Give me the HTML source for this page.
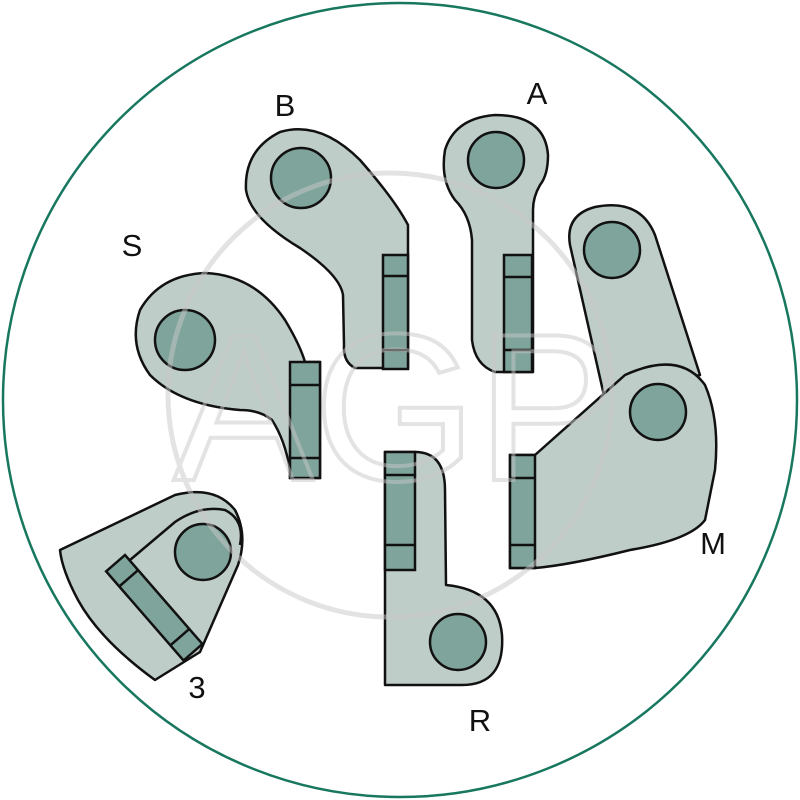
<!DOCTYPE html>
<html><head><style>html,body{margin:0;padding:0;background:#fff}svg{display:block}</style></head>
<body>
<svg width="800" height="800" viewBox="0 0 800 800" xmlns="http://www.w3.org/2000/svg">
<circle cx="400" cy="400" r="397" fill="#fff" stroke="#17775f" stroke-width="2.5"/>
<g fill="#bfcdc9" stroke="#111" stroke-width="2.5" stroke-linejoin="round">
<path d="M355,368 Q343,362 344,345 L343,295 Q340,275 300,248 Q250,218 246,190 Q244,150 280,132 Q320,120 360,160 Q395,200 408,225 L408,368 Z"/>
<path d="M495,372 Q475,365 472,340 L472,240 Q470,215 455,200 Q440,180 445,150 Q455,118 495,115 Q545,115 548,155 Q548,175 540,185 Q533,197 533,210 L533,372 Z"/>
<path d="M290,478 L290,470 Q285,440 272,420 Q260,410 240,410 Q180,405 150,375 Q128,345 140,310 Q160,275 205,273 Q255,275 285,320 Q300,345 305,362 L320,362 L320,478 Z"/>
<path d="M570,245 Q565,215 595,207 Q640,198 655,235 L700,375 L605,400 Z"/>
<path d="M510,455 L535,455 L625,375 Q680,350 705,385 Q720,420 715,470 L705,520 Q690,540 630,550 Q570,565 535,568 L510,568 Z"/>
<path d="M385,452 L415,452 Q445,452 445,490 L446,585 Q498,590 502,635 Q505,685 462,685 L385,685 Z"/>
<path d="M60,550 L175,495 Q215,485 235,510 Q248,535 238,565 L200,652 L155,680 Q100,640 78,600 Q62,570 60,550 Z"/>
</g>
<g fill="none" stroke="#111" stroke-width="2.5">
<path d="M130,560 L175,522 Q200,505 225,510 Q245,520 240,545"/>
</g>
<g fill="#7fa49b" stroke="#111" stroke-width="2.5">
<circle cx="301" cy="178" r="30"/>
<circle cx="496" cy="160" r="28"/>
<circle cx="185" cy="340" r="30"/>
<circle cx="612" cy="250" r="28"/>
<circle cx="658" cy="412" r="28"/>
<circle cx="458" cy="642" r="28"/>
<circle cx="203" cy="552" r="28"/>
<rect x="383" y="255" width="25" height="114"/>
<line x1="383" y1="276" x2="408" y2="276"/><line x1="383" y1="350" x2="408" y2="350"/>
<rect x="504" y="255" width="28" height="117"/>
<line x1="504" y1="277" x2="532" y2="277"/><line x1="504" y1="350" x2="532" y2="350"/>
<rect x="290" y="362" width="30" height="116"/>
<line x1="290" y1="385" x2="320" y2="385"/><line x1="290" y1="458" x2="320" y2="458"/>
<rect x="510" y="455" width="25" height="113"/>
<line x1="510" y1="478" x2="535" y2="478"/><line x1="510" y1="545" x2="535" y2="545"/>
<rect x="385" y="452" width="30" height="118"/>
<line x1="385" y1="475" x2="415" y2="475"/><line x1="385" y1="545" x2="415" y2="545"/>
<g transform="translate(125,555) rotate(49)">
<rect x="0" y="0" width="118" height="25"/>
<line x1="20" y1="0" x2="20" y2="25"/><line x1="98" y1="0" x2="98" y2="25"/>
</g>
</g>
<g opacity="0.5" fill="none" stroke="#c8c8c8" stroke-width="5">
<circle cx="390" cy="395" r="222"/>
<text x="395" y="480" font-family="Liberation Sans, sans-serif" font-size="210" text-anchor="middle" stroke-width="4">AGP</text>
</g>
<g font-family="Liberation Sans, sans-serif" font-size="31" fill="#111" text-anchor="middle">
<text x="285" y="116">B</text>
<text x="537" y="104">A</text>
<text x="132" y="256">S</text>
<text x="713" y="554">M</text>
<text x="197" y="698">3</text>
<text x="480" y="731">R</text>
</g>
</svg>
</body></html>
